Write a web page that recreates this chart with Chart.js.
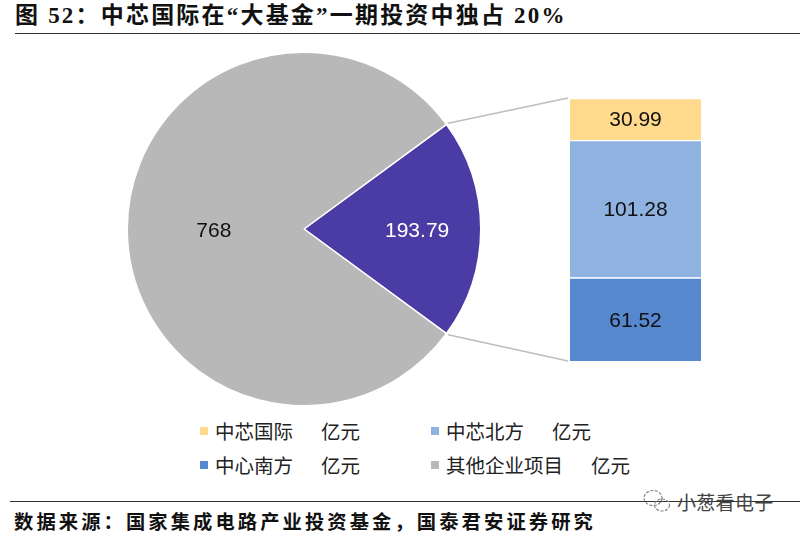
<!DOCTYPE html>
<html lang="zh">
<head>
<meta charset="utf-8">
<title>中芯国际在“大基金”一期投资中独占 20%</title>
<script src="https://cdn.jsdelivr.net/npm/chart.js@4/dist/chart.umd.min.js"></script>
<style>
  html,body{margin:0;padding:0;background:#fff;}
  body{width:800px;height:536px;position:relative;overflow:hidden;font-family:"Liberation Serif","Noto Sans CJK SC",serif;color:#111;}
  canvas{position:absolute;}
  #title{position:absolute;left:15px;top:-1px;font-size:23px;font-weight:700;line-height:33px;letter-spacing:2.2px;white-space:nowrap;}
  .rule{position:absolute;height:1px;background:#333;right:0;}
  #source{position:absolute;left:14px;top:507px;font-size:19.3px;font-weight:700;line-height:28px;letter-spacing:3.1px;white-space:nowrap;font-family:"Noto Sans CJK SC",sans-serif;}
  .leg{position:absolute;font-family:"Noto Sans CJK SC",sans-serif;font-size:19.5px;line-height:28px;color:#222;white-space:nowrap;}
  .leg i{position:absolute;left:-15px;top:10px;width:8px;height:8px;}
  .leg span{margin-left:28px;}
  #mark{position:absolute;left:677px;top:489px;font-family:"Noto Sans CJK SC",sans-serif;font-size:19px;line-height:26px;color:#444;letter-spacing:.3px;white-space:nowrap;}
  #wx{position:absolute;left:641px;top:489px;}
</style>
</head>
<body>
<div id="title">图 52：中芯国际在“大基金”一期投资中独占 20%</div>
<div class="rule" style="left:15px;top:33px;"></div>
<canvas id="pie" width="370" height="370" style="left:119px;top:44px;"></canvas>
<canvas id="bar" width="265" height="280" style="left:440px;top:90px;"></canvas>
<div id="legend"></div>
<div class="rule" style="left:10px;top:501px;"></div>
<svg id="wx" width="34" height="26" viewBox="0 0 34 26" fill="none" stroke="#888" stroke-width="1.2" stroke-dasharray="3 1.5">
  <ellipse cx="12" cy="9" rx="9" ry="7.5"></ellipse>
  <ellipse cx="21" cy="16" rx="7.5" ry="6"></ellipse>
</svg>
<div id="mark">小葱看电子</div>
<div id="source">数据来源：国家集成电路产业投资基金，国泰君安证券研究</div>
<script>
  // 数据
  const pieLabels = ['大基金中芯系', '其他企业项目'];
  const pieValues = [193.79, 768];
  const pieColors = ['#4b3ba4', '#b8b8b8'];
  const pieTextColors = ['#ffffff', '#111111'];

  const barLabels = ['中心南方', '中芯北方', '中芯国际'];
  const barValues = [61.52, 101.28, 30.99];
  const barColors = ['#5688d0', '#8fb2e0', '#ffd98c'];

  const legendNames = ['中芯国际', '中芯北方', '中心南方', '其他企业项目'];
  const legendUnit = '亿元';
  const legendColors = ['#ffd98c', '#8fb2e0', '#5688d0', '#b8b8b8'];

  // 图例
  const legendBox = document.getElementById('legend');
  const legX = [215, 446], legY = [417, 451];
  legendNames.forEach((name, i)=>{
    const el = document.createElement('div');
    el.className = 'leg';
    el.style.left = legX[i % 2] + 'px';
    el.style.top = legY[Math.floor(i / 2)] + 'px';
    el.innerHTML = `<i style="background:${legendColors[i]}"></i>${name}<span>${legendUnit}</span>`;
    legendBox.appendChild(el);
  });

  const LABEL_FONT = '21px "Liberation Sans", Arial, sans-serif';
  const labelPos = [0.64, 0.51]; // 饼图标签离圆心的比例

  const pieText = {
    id:'pieText',
    afterDatasetsDraw(c){
      const ctx = c.ctx;
      ctx.save();
      ctx.font = LABEL_FONT; ctx.textAlign = 'center'; ctx.textBaseline = 'middle';
      c.getDatasetMeta(0).data.forEach((a, i)=>{
        const m = (a.startAngle + a.endAngle) / 2;
        const r = a.outerRadius * labelPos[i];
        ctx.fillStyle = pieTextColors[i];
        ctx.fillText(String(pieValues[i]), a.x + Math.cos(m) * r, a.y + Math.sin(m) * r + 2);
      });
      ctx.restore();
    }
  };

  // 第一块居中朝右
  const pieTotal = pieValues.reduce((s, v)=>s + v, 0);
  const pieChart = new Chart(document.getElementById('pie'), {
    type:'pie',
    data:{labels:pieLabels, datasets:[{data:pieValues, backgroundColor:pieColors, borderColor:'#fff', borderWidth:1.5}]},
    options:{
      responsive:false, animation:false, rotation:90 - pieValues[0] / pieTotal * 180,
      layout:{padding:7.5},
      plugins:{legend:{display:false}, tooltip:{enabled:false}}
    },
    plugins:[pieText]
  });

  // 连接线 + 柱内标签
  const barDeco = {
    id:'barDeco',
    afterDatasetsDraw(c){
      const ctx = c.ctx;
      const a = pieChart.getDatasetMeta(0).data[0];
      const pc = pieChart.canvas, bc = c.canvas;
      const ox = pc.offsetLeft - bc.offsetLeft, oy = pc.offsetTop - bc.offsetTop;
      const r = a.outerRadius + 2;
      const top = c.getDatasetMeta(2).data[0];
      const bottom = c.getDatasetMeta(0).data[0];
      const left = top.x - top.width / 2 - 2;
      ctx.save();
      ctx.strokeStyle = '#bdbdbd'; ctx.lineWidth = 1.3;
      ctx.beginPath();
      ctx.moveTo(ox + a.x + Math.cos(a.startAngle) * r, oy + a.y + Math.sin(a.startAngle) * r);
      ctx.lineTo(left, top.y);
      ctx.moveTo(ox + a.x + Math.cos(a.endAngle) * r, oy + a.y + Math.sin(a.endAngle) * r);
      ctx.lineTo(left, bottom.base);
      ctx.stroke();
      ctx.font = LABEL_FONT; ctx.textAlign = 'center'; ctx.textBaseline = 'middle'; ctx.fillStyle = '#111';
      barValues.forEach((v, i)=>{
        const el = c.getDatasetMeta(i).data[0];
        ctx.fillText(v.toFixed(2), el.x, (el.y + el.base) / 2 + 1.5);
      });
      ctx.restore();
    }
  };

  new Chart(document.getElementById('bar'), {
    type:'bar',
    data:{
      labels:[''],
      datasets:barValues.map((v, i)=>({
        label:barLabels[i], data:[v], backgroundColor:barColors[i],
        borderColor:'#fff', borderWidth:{top:1.5, bottom:1.5, left:0, right:0}, barPercentage:1, categoryPercentage:1
      }))
    },
    options:{
      responsive:false, animation:false,
      layout:{padding:{left:130, right:4, top:8, bottom:9}},
      scales:{
        x:{stacked:true, display:false},
        y:{stacked:true, display:false, min:0, max:pieValues[0]}
      },
      plugins:{legend:{display:false}, tooltip:{enabled:false}}
    },
    plugins:[barDeco]
  });
</script>
</body>
</html>
